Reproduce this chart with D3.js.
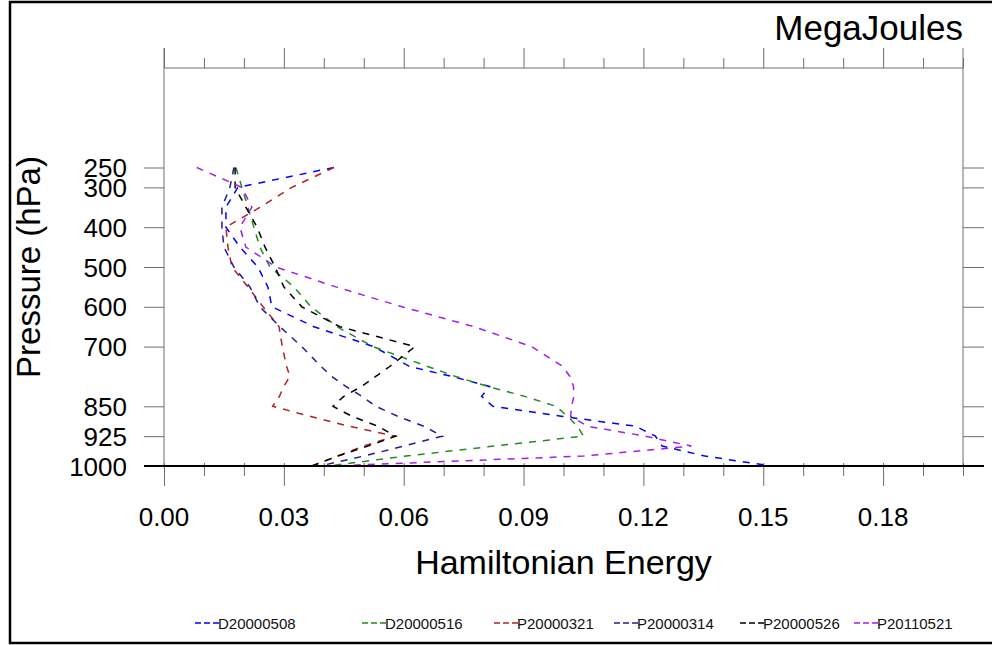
<!DOCTYPE html>
<html><head><meta charset="utf-8">
<script src="https://cdn.jsdelivr.net/npm/d3@7/dist/d3.min.js"></script>
<style>
body{margin:0;background:#fff}
text{font-family:"Liberation Sans",Arial,Helvetica,sans-serif}
</style>
</head><body>
<svg id="c" width="992" height="645"></svg>
<script>
// ---- data ----
const levels = [250,300,350,400,450,500,550,600,650,700,750,775,800,825,850,875,900,925,950,975,1000];
const seriesNames = ["D20000508","D20000516","P20000321","P20000314","P20000526","P20110521"];
const D20000508 = [0.0425,0.0185,0.0155,0.0155,0.019,0.0235,0.026,0.027,0.0375,0.0525,0.0615,0.072,0.0815,0.0795,0.0823,0.0994,0.118,0.123,0.1247,0.1354,0.152];
const D20000516 = [0.018,0.0195,0.021,0.0225,0.024,0.0265,0.0325,0.0368,0.0433,0.0523,0.066,0.073,0.081,0.0903,0.0981,0.101,0.1035,0.105,0.0826,0.0606,0.041];
const P20000321 = [0.0425,0.032,0.024,0.0155,0.016,0.017,0.021,0.0248,0.0288,0.0296,0.0307,0.0315,0.030,0.0289,0.0272,0.0365,0.0463,0.0578,0.050,0.0435,0.037];
const P20000314 = [0.0175,0.0165,0.0145,0.0145,0.015,0.0175,0.0215,0.024,0.029,0.0345,0.0393,0.042,0.0455,0.0495,0.053,0.0585,0.065,0.0697,0.060,0.050,0.039];
const P20000526 = [0.0178,0.0178,0.0205,0.0233,0.0253,0.0278,0.030,0.0345,0.044,0.0628,0.0565,0.053,0.0495,0.045,0.0423,0.047,0.0535,0.058,0.051,0.0435,0.037];
const P20110521 = [0.0082,0.0195,0.022,0.019,0.0205,0.028,0.043,0.0596,0.0776,0.092,0.0998,0.1016,0.1025,0.1026,0.102,0.1018,0.106,0.1204,0.132,0.105,0.042];
const seriesColors = ["#0000ff","#228b22","#b22222","#1e1e9c","#000000","#a020f0"];
const xTickValues = [0,0.03,0.06,0.09,0.12,0.15,0.18];
const xMinorValues = [0.01,0.02,0.04,0.05,0.07,0.08,0.1,0.11,0.13,0.14,0.16,0.17,0.19,0.2];
const yTickValues = [250,300,400,500,600,700,850,925,1000];

const allValues = [D20000508,D20000516,P20000321,P20000314,P20000526,P20110521];

// ---- layout ----
const L = 164, R = 963, T = 68, B = 466;
const svg = d3.select("#c");
const x = d3.scaleLinear().domain([0,0.2]).range([L,R]);
const y = d3.scaleLinear().domain([0,1000]).range([T,B]);
const frameCol = "#6e6e6e";

// outer border
svg.append("rect").attr("x",10).attr("y",2).attr("width",990).attr("height",641)
  .attr("fill","none").attr("stroke","#000").attr("stroke-width",2.5);

// frame
const fr = svg.append("g").attr("stroke",frameCol).attr("stroke-width",1).attr("fill","none");
fr.append("line").attr("x1",L).attr("x2",L).attr("y1",T-20).attr("y2",B);
fr.append("line").attr("x1",R).attr("x2",R).attr("y1",T-20).attr("y2",B);
fr.append("line").attr("x1",L).attr("x2",R).attr("y1",T).attr("y2",T);

// top axis ticks
const topMaj = d3.axisTop(x).tickValues(xTickValues).tickSize(20).tickFormat("");
const topMin = d3.axisTop(x).tickValues(xMinorValues).tickSize(10).tickFormat("");
[topMaj,topMin].forEach(a=>{
  const g = svg.append("g").attr("transform",`translate(0,${T})`).call(a);
  g.select(".domain").remove();
  g.selectAll("line").attr("stroke",frameCol);
});

// bottom axis ticks
const botMaj = d3.axisBottom(x).tickValues(xTickValues).tickSize(20).tickFormat("");
const botMin = d3.axisBottom(x).tickValues(xMinorValues).tickSize(10).tickFormat("");
[botMaj,botMin].forEach(a=>{
  const g = svg.append("g").attr("transform",`translate(0,${B})`).call(a);
  g.select(".domain").remove();
  g.selectAll("line").attr("stroke",frameCol).attr("y1",-3);
});

// left and right ticks
const la = svg.append("g").attr("transform",`translate(${L},0)`).call(d3.axisLeft(y).tickValues(yTickValues).tickSize(20).tickFormat(""));
la.select(".domain").remove(); la.selectAll("line").attr("stroke",frameCol);
const ra = svg.append("g").attr("transform",`translate(${R},0)`).call(d3.axisRight(y).tickValues(yTickValues).tickSize(21).tickFormat(""));
ra.select(".domain").remove(); ra.selectAll("line").attr("stroke",frameCol);

// tick labels
svg.append("g").selectAll("text").data(xTickValues).join("text")
  .attr("x",d=>x(d)).attr("y",526).attr("text-anchor","middle")
  .attr("font-size",26).attr("fill","#000").text(d=>d3.format(".2f")(d));
svg.append("g").selectAll("text").data(yTickValues).join("text")
  .attr("x",127).attr("y",d=>y(d)+9.5).attr("text-anchor","end")
  .attr("font-size",26).attr("fill","#000").text(d=>d);

// series
const line = d3.line().x(d=>x(d[0])).y(d=>y(d[1]));
const lg = svg.append("g").attr("fill","none");
allValues.forEach((vals,i)=>{
  lg.append("path").datum(vals.map((v,j)=>[v,levels[j]]))
    .attr("d",line).attr("stroke",seriesColors[i])
    .attr("stroke-width",1.5).attr("stroke-dasharray","7 7");
});

// bottom black line (1000 hPa)
svg.append("line").attr("x1",L-20).attr("x2",R+21).attr("y1",B).attr("y2",B)
  .attr("stroke","#000").attr("stroke-width",2);

// titles
svg.append("text").attr("x",R).attr("y",40).attr("text-anchor","end")
  .attr("font-size",35).attr("fill","#000").text("MegaJoules");
svg.append("text").attr("x",(L+R)/2).attr("y",574).attr("text-anchor","middle")
  .attr("font-size",34).attr("fill","#000").text("Hamiltonian Energy");
svg.append("text").attr("transform",`translate(40,${(T+B)/2}) rotate(-90)`)
  .attr("text-anchor","middle").attr("font-size",33).attr("fill","#000").text("Pressure (hPa)");

// legend
const legendTextX = [218,385,517,637,763,877];
const leg = svg.append("g");
seriesNames.forEach((n,i)=>{
  const tx = legendTextX[i];
  leg.append("line").attr("x1",tx-23).attr("x2",tx+1).attr("y1",623).attr("y2",623)
    .attr("stroke",seriesColors[i]).attr("stroke-width",1.3).attr("stroke-dasharray","6 3");
  leg.append("text").attr("x",tx).attr("y",628.5).attr("font-size",15).attr("fill","#111").text(n);
});
</script>
</body></html>
